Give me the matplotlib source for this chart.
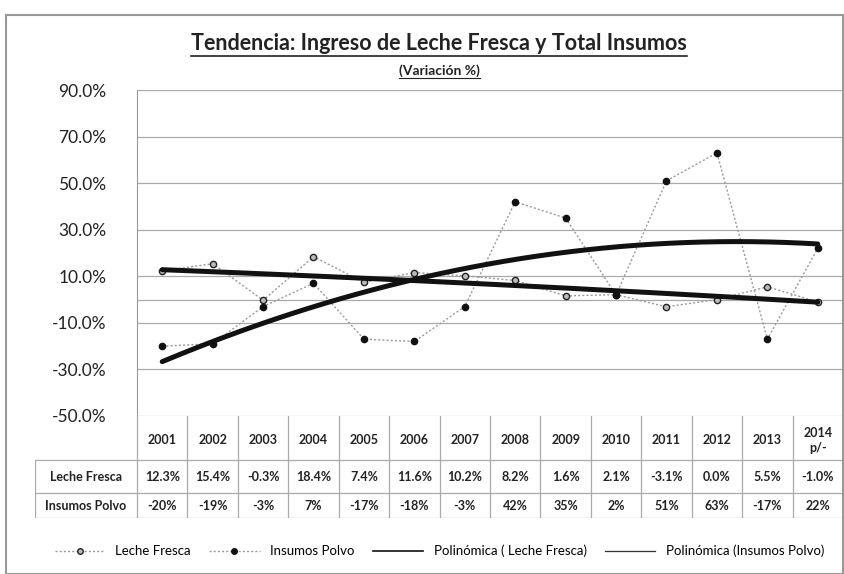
import numpy as np
import matplotlib
matplotlib.use("Agg")
import matplotlib.pyplot as plt
from matplotlib.lines import Line2D
from matplotlib.patches import Rectangle

plt.rcParams['font.family'] = ['Lato', 'DejaVu Sans']

years = ["2001", "2002", "2003", "2004", "2005", "2006", "2007",
         "2008", "2009", "2010", "2011", "2012", "2013", "2014\np/-"]
leche_fresca = [12.3, 15.4, -0.3, 18.4, 7.4, 11.6, 10.2, 8.2, 1.6, 2.1, -3.1, 0.0, 5.5, -1.0]
insumos_polvo = [-20, -19, -3, 7, -17, -18, -3, 42, 35, 2, 51, 63, -17, 22]
leche_labels = ["12.3%", "15.4%", "-0.3%", "18.4%", "7.4%", "11.6%", "10.2%",
                "8.2%", "1.6%", "2.1%", "-3.1%", "0.0%", "5.5%", "-1.0%"]
insumos_labels = ["-20%", "-19%", "-3%", "7%", "-17%", "-18%", "-3%",
                  "42%", "35%", "2%", "51%", "63%", "-17%", "22%"]
y_ticks = [-50, -30, -10, 10, 30, 50, 70, 90]

W, H = 845, 574
fig = plt.figure(figsize=(W / 100, H / 100), dpi=100)

def fx(px):
    return px / W

def fy(py):
    return 1 - py / H

# plot area
left_px, right_px, top_px, bot_px = 137, 843, 90, 416
ax = fig.add_axes([fx(left_px), fy(bot_px), fx(right_px - left_px), (bot_px - top_px) / H])
x = np.arange(len(years))
ax.set_xlim(-0.5, len(years) - 0.5)
ax.set_ylim(-50, 90)
ax.set_yticks(y_ticks)
ax.set_yticklabels([f"{v:.1f}%" for v in y_ticks], fontsize=12.5, color="#222222")
ax.tick_params(axis="y", length=0, pad=22)
ax.set_xticks([])
for v in y_ticks + [0]:
    ax.axhline(v, color="#aaaaaa", lw=0.9, zorder=1)
for s in ["top", "right", "bottom"]:
    ax.spines[s].set_visible(False)
ax.spines["left"].set_color("#999999")

ax.plot(x, leche_fresca, linestyle=(0, (1.5, 1.5)), color="#9a9a9a", lw=1.0,
        marker="o", markersize=4.5, markerfacecolor="#bbbbbb", markeredgecolor="#222222",
        markeredgewidth=1.0, zorder=3)
ax.plot(x, insumos_polvo, linestyle=(0, (1.5, 1.5)), color="#9a9a9a", lw=1.0,
        marker="o", markersize=4.5, markerfacecolor="#111111", markeredgecolor="#111111",
        zorder=3)

xs = np.linspace(0, len(years) - 1, 200)
for series in (leche_fresca, insumos_polvo):
    coef = np.polyfit(x, series, 2)
    ax.plot(xs, np.polyval(coef, xs), color="#111111", lw=3.6, solid_capstyle="round", zorder=4)

# data table
tab_left = 35
tab_bot = 518
col_w = (right_px - left_px) / len(years)
tx = fig.add_axes([fx(tab_left), fy(tab_bot), fx(right_px - tab_left), (tab_bot - bot_px) / H])
x0 = -0.5 - (left_px - tab_left) / col_w
tx.set_xlim(x0, len(years) - 0.5)
tx.set_ylim(tab_bot, bot_px)
tx.axis("off")
row_y = [bot_px, 460, 493, tab_bot]
line_kw = dict(color="#aaaaaa", lw=0.9)
for i in range(len(years) + 1):
    tx.plot([i - 0.5, i - 0.5], [row_y[0], row_y[-1]], **line_kw)
tx.plot([x0, x0], [row_y[1], row_y[-1]], **line_kw)
for yy in row_y[1:]:
    tx.plot([x0, len(years) - 0.5], [yy, yy], **line_kw)

cell_font = dict(fontsize=9, fontweight="bold", color="#222222", ha="center", va="center")
for i, yr in enumerate(years):
    tx.text(i, (row_y[0] + row_y[1]) / 2 + 2, yr, linespacing=1.3, **cell_font)
    tx.text(i, (row_y[1] + row_y[2]) / 2, leche_labels[i], **cell_font)
    tx.text(i, (row_y[2] + row_y[3]) / 2, insumos_labels[i], **cell_font)
lab_x = (x0 + -0.5) / 2
tx.text(lab_x, (row_y[1] + row_y[2]) / 2, "Leche Fresca", **cell_font)
tx.text(lab_x, (row_y[2] + row_y[3]) / 2, "Insumos Polvo", **cell_font)

# legend
handles = [
    Line2D([], [], linestyle=(0, (1.5, 1.5)), color="#9a9a9a", lw=1.0, marker="o",
           markersize=4, markerfacecolor="#bbbbbb", markeredgecolor="#222222"),
    Line2D([], [], linestyle=(0, (1.5, 1.5)), color="#9a9a9a", lw=1.0, marker="o",
           markersize=4, markerfacecolor="#111111", markeredgecolor="#111111"),
    Line2D([], [], color="#111111", lw=1.2),
    Line2D([], [], color="#333333", lw=0.9),
]
labels = ["Leche Fresca", "Insumos Polvo", "Polinómica ( Leche Fresca)", "Polinómica (Insumos Polvo)"]
fig.legend(handles, labels, loc="center", bbox_to_anchor=(0.52, fy(551)), ncol=4,
           frameon=False, fontsize=9.5, handlelength=3.8, columnspacing=1.4,
           handletextpad=0.8)

# titles
title = fig.text(0.52, fy(44), "Tendencia: Ingreso de Leche Fresca y Total Insumos",
                 ha="center", va="center", fontsize=15.5, fontweight="bold", color="#222222")
sub = fig.text(0.52, fy(71), "(Variación %)", ha="center", va="center",
               fontsize=10, fontweight="bold", color="#222222")

# outer frame
fig.add_artist(Rectangle((fx(6), 0.0), fx(W - 6) - 0.002, fy(15), transform=fig.transFigure,
                         fill=False, edgecolor="#999999", lw=1.5))

fig.canvas.draw()
for t, lw in ((title, 1.2), (sub, 0.8)):
    bb = t.get_window_extent()
    yline = bb.y0 - 1
    fig.add_artist(Line2D([bb.x0 / W, bb.x1 / W], [yline / H, yline / H],
                          transform=fig.transFigure, color="#222222", lw=lw))

fig.savefig("out.png", dpi=100)
